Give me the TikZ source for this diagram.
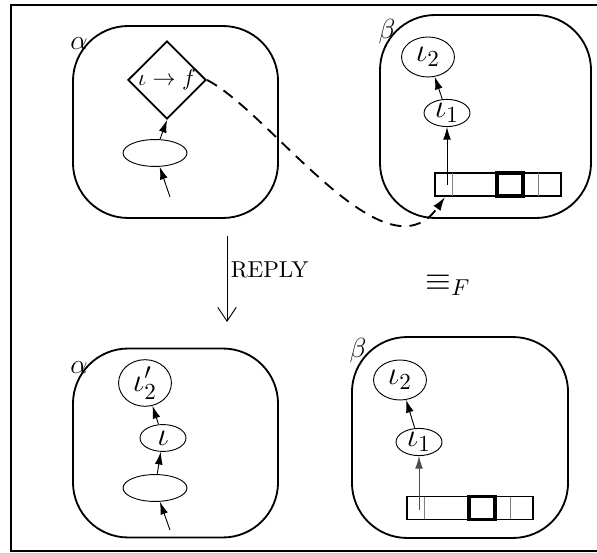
\documentclass[tikz,border=0pt]{standalone}
\usepackage{amsmath,amssymb}
\usetikzlibrary{shapes.geometric,arrows.meta}
\tikzstyle{machine} = [draw=black, thick, rectangle, rounded corners=24pt, inner sep=0pt]
\tikzstyle{slot} = [draw=black, thin, ellipse, inner sep=0pt, font=\Large]
\tikzstyle{guard} = [draw=black, thick, diamond, inner sep=0pt,
    minimum width=34pt, minimum height=33pt]
\tikzstyle{queue} = [draw=black, thick, rectangle, inner sep=0pt,
    minimum width=54.8pt, minimum height=10pt]
\tikzstyle{qhead} = [draw=black, line width=1.5pt, rectangle, inner sep=0pt,
    minimum width=11.3pt, minimum height=10pt]
\tikzstyle{link} = [-{Latex[length=5.5pt,width=3.4pt]}, thin]
\tikzstyle{owner} = [font=\large, inner sep=0pt]

\begin{document}
\begin{tikzpicture}[x=0.435pt,y=-0.435pt]
                \useasboundingbox (0,0) rectangle (597,553);
                \draw[thick] (597,5) -- (11,5) -- (11,551) -- (597,551);

                \node[machine, minimum width=89.2pt, minimum height=83.5pt] (alpha1) at (175.5,122) {};
                \node[owner] (alphaname1) at (79,44) {$\alpha$};
                \node[guard] (test1) at (167,80) {$\iota\rightarrow f$};
                \node[slot, minimum width=27.8pt, minimum height=11.7pt] (msg1) at (155,153) {};
                \coordinate (in1) at (170,197);
                \draw[link] (in1) -- (msg1);
                \draw[link] (msg1) -- (test1.south);

                \node[machine, minimum width=91.8pt, minimum height=88.3pt] (beta1) at (485.5,116.5) {};
                \node[owner] (betaname1) at (387,32) {$\beta$};
                \node[slot, minimum width=23pt, minimum height=17.4pt] (ltwo1) at (428,57) {$\iota_2$};
                \node[slot, minimum width=20pt, minimum height=11.7pt] (lone1) at (447,113) {$\iota_1$};
                \node[queue] (queue1) at (498,184.5) {};
                \node[qhead] (qhead1) at (510,184.5) {};
                \draw[gray, thin] (452,173) -- (452,196);
                \draw[gray, thin] (538,173) -- (538,196);
                \coordinate (cell1) at (447,185);
                \coordinate (slot1) at (445,197);
                \draw[link] (cell1) -- (lone1);
                \draw[link] (lone1) -- (ltwo1);

                \draw[thick, dash pattern=on 5pt off 3.5pt, -{Latex[length=6pt,width=3.8pt]}]
                    (test1.east) .. controls (270,112) and (385,282) .. (slot1);

                \coordinate (step1) at (227,236);
                \coordinate (step2) at (227,322);
                \draw[-{Straight Barb[length=6pt,width=8pt]}] (step1) -- (step2);
                \node[anchor=west, inner sep=1pt] (reply) at (228,270) {REPLY};
                \node[font=\Large] (equiv) at (448,285) {$\equiv_F$};

                \node[machine, minimum width=89.2pt, minimum height=82.2pt] (alpha2) at (175.5,443) {};
                \node[owner] (alphaname2) at (79,368) {$\alpha$};
                \node[slot, minimum width=23pt, minimum height=17.4pt] (ltwo2) at (145,383) {$\iota_2'$};
                \node[slot, minimum width=20pt, minimum height=11.7pt] (lone2) at (163,438) {$\iota$};
                \node[slot, minimum width=27.8pt, minimum height=11.7pt] (msg2) at (155,488) {};
                \coordinate (in2) at (170,530);
                \draw[link] (in2) -- (msg2);
                \draw[link] (msg2) -- (lone2);
                \draw[link] (lone2) -- (ltwo2);

                \node[machine, minimum width=94pt, minimum height=87.4pt] (beta2) at (460,437.5) {};
                \node[owner] (betaname2) at (358,351) {$\beta$};
                \node[slot, minimum width=23pt, minimum height=17.4pt] (ltwo3) at (400,380) {$\iota_2$};
                \node[slot, minimum width=20pt, minimum height=11.7pt] (lone3) at (419,442) {$\iota_1$};
                \node[queue] (queue2) at (470,508) {};
                \node[qhead] (qhead2) at (482,508) {};
                \draw[gray, thin] (424,497) -- (424,519);
                \draw[gray, thin] (510,497) -- (510,519);
                \coordinate (cell2) at (419,510);
                \draw[link, gray!60!black] (cell2) -- (lone3);
                \draw[link] (lone3) -- (ltwo3);
            \end{tikzpicture}
\end{document}
